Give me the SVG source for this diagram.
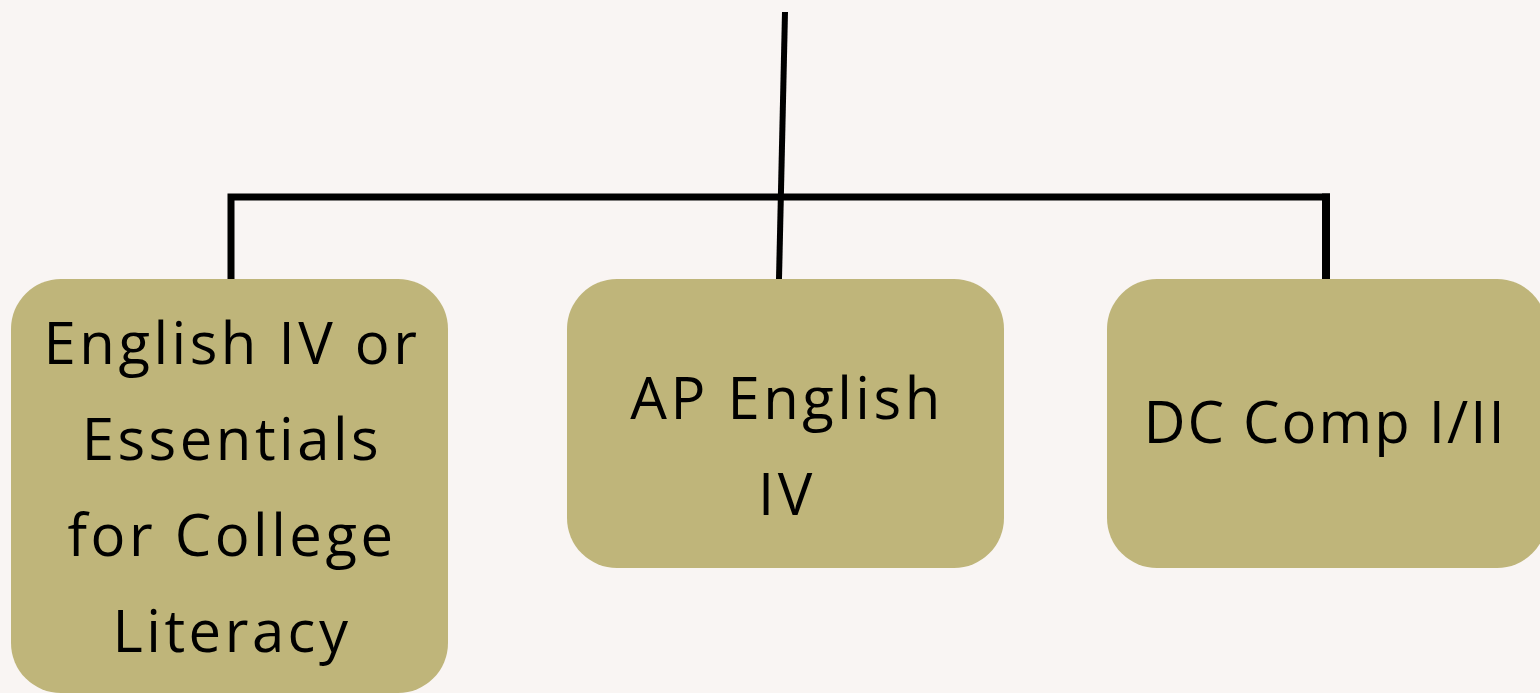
<svg xmlns="http://www.w3.org/2000/svg" width="1540" height="693" viewBox="0 0 1540 693">
<style>
.box{fill:#BFB57A}
.lbl{font-family:"Open Sans","Liberation Sans",sans-serif;font-size:58px;fill:#000;text-anchor:middle;letter-spacing:3.5px}
.ln{stroke:#000;fill:none;stroke-linecap:butt}
</style>
<rect width="1540" height="693" fill="#F9F5F3"/>
<g id="connectors">
<polyline class="ln" stroke-width="7" points="231,279 231,197 1330,197"/>
<line class="ln" stroke-width="8" x1="1326" y1="193.5" x2="1326" y2="279"/>
<line class="ln" stroke-width="6" x1="785" y1="12" x2="779" y2="279"/>
</g>
<g id="node1">
<rect class="box" x="11" y="279" width="437" height="414" rx="50"/>
<text class="lbl" x="232" y="364">English IV or</text>
<text class="lbl" x="232" y="460">Essentials</text>
<text class="lbl" x="232" y="556">for College</text>
<text class="lbl" x="232" y="652">Literacy</text>
</g>
<g id="node2">
<rect class="box" x="567" y="279" width="437" height="289" rx="50"/>
<text class="lbl" x="787" y="419">AP English</text>
<text class="lbl" x="787" y="515">IV</text>
</g>
<g id="node3">
<rect class="box" x="1107" y="279" width="440" height="289" rx="50"/>
<text class="lbl" x="1325" y="443" style="letter-spacing:2px">DC Comp I/II</text>
</g>
</svg>
